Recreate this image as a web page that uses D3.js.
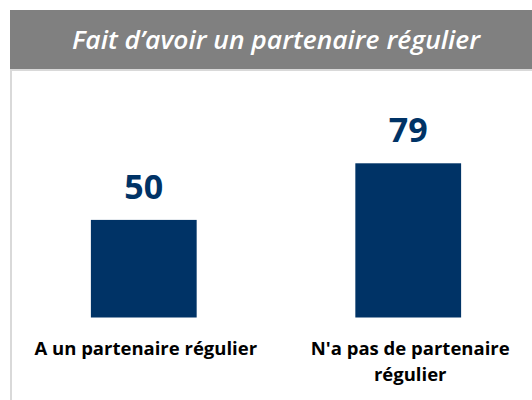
<!DOCTYPE html>
<html>
<head>
<meta charset="utf-8">
<script src="https://cdn.jsdelivr.net/npm/d3@7"></script>
<style>
  body { margin: 0; background: #fff; }
  #viz { width: 532px; height: 400px; }
</style>
</head>
<body>
<div id="viz"></div>
<script>
const title = 'Fait d\u2019avoir un partenaire régulier';
const categories = ['A un partenaire régulier', 'N\'a pas de partenaire régulier'];
const categoryLines = [['A un partenaire régulier'], ['N\'a pas de partenaire', 'régulier']];
const values = [50, 79];

const width = 532;
const height = 400;
const barColor = '#003366';

const svg = d3.select('#viz')
      .append('svg')
      .attr('width', width)
      .attr('height', height);

// frame: light border on the left, grey header band on top
svg.append('line')
  .attr('x1', 11).attr('x2', 11)
  .attr('y1', 10).attr('y2', height)
  .attr('stroke', '#d9d9d9')
  .attr('stroke-width', 2);

svg.append('rect')
  .attr('x', 10).attr('y', 10)
  .attr('width', width - 10).attr('height', 59)
  .attr('fill', '#808080');

svg.append('line')
  .attr('x1', 10).attr('x2', width)
  .attr('y1', 70).attr('y2', 70)
  .attr('stroke', '#d9d9d9')
  .attr('stroke-width', 2);

svg.append('text')
  .attr('x', 276)
  .attr('y', 49)
  .attr('text-anchor', 'middle')
  .attr('fill', '#fff')
  .style('font-family', '"Open Sans", sans-serif')
  .style('font-style', 'italic')
  .style('font-weight', 600)
  .style('font-size', '26px')
  .attr('textLength', 408)
  .attr('lengthAdjust', 'spacingAndGlyphs')
  .text(title);

const x = d3.scaleBand()
      .domain(categories)
      .range([38, 514])
      .paddingInner(0.6)
      .paddingOuter(0.2);

const y = d3.scaleLinear()
      .domain([0, 100])
      .range([317.5, 122.3]);

const bars = svg.append('g');

bars.selectAll('rect')
  .data(values)
  .enter()
  .append('rect')
  .attr('x', (d, i) => x(categories[i]))
  .attr('y', d => y(d))
  .attr('width', x.bandwidth())
  .attr('height', d => y(0) - y(d))
  .attr('fill', barColor);

bars.selectAll('text.value')
  .data(values)
  .enter()
  .append('text')
  .attr('class', 'value')
  .attr('x', (d, i) => x(categories[i]) + x.bandwidth() / 2)
  .attr('y', d => y(d) - 21)
  .attr('text-anchor', 'middle')
  .attr('fill', barColor)
  .style('font-family', '"Open Sans", sans-serif')
  .style('font-weight', 'bold')
  .style('font-size', '34px')
  .text(d => d);

const labels = svg.append('g')
      .selectAll('text')
      .data(categories)
      .enter()
      .append('text')
      .attr('x', d => x(d) + x.bandwidth() / 2 + 2)
      .attr('y', 355)
      .attr('text-anchor', 'middle')
      .attr('fill', '#000')
      .style('font-family', '"Open Sans", sans-serif')
      .style('font-weight', 'bold')
      .style('font-size', '18.5px');

labels.selectAll('tspan')
  .data((d, i) => categoryLines[i])
  .enter()
  .append('tspan')
  .attr('x', function() { return d3.select(this.parentNode).attr('x'); })
  .attr('dy', (d, i) => i === 0 ? 0 : 26)
  .text(d => d);
</script>
</body>
</html>
